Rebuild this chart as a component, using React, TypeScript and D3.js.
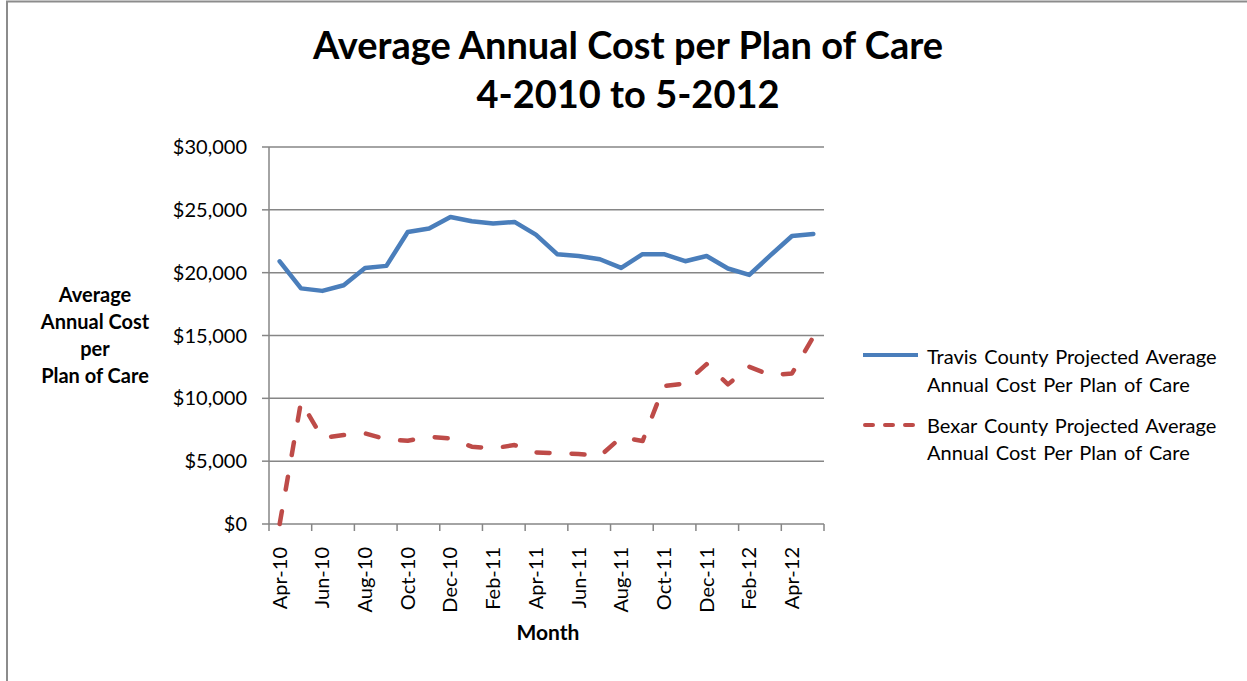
import React from "react";
import * as d3 from "d3";

const months = [
  "Apr-10","May-10","Jun-10","Jul-10","Aug-10","Sep-10","Oct-10","Nov-10","Dec-10",
  "Jan-11","Feb-11","Mar-11","Apr-11","May-11","Jun-11","Jul-11","Aug-11","Sep-11",
  "Oct-11","Nov-11","Dec-11","Jan-12","Feb-12","Mar-12","Apr-12","May-12",
];

const travis = [
  20900, 18750, 18550, 19000, 20380, 20540, 23240, 23510, 24430, 24090, 23910, 24040, 23030,
  21470, 21330, 21070, 20380, 21470, 21470, 20910, 21330, 20330, 19820, 21390, 22920, 23080,
];

const bexar = [
  0, 9730, 6850, 7080, 7210, 6730, 6620, 6940, 6810, 6150, 6020, 6280, 5700,
  5620, 5570, 5400, 6900, 6600, 10970, 11190, 12720, 11110, 12510, 11850, 11980, 14890,
];

const yTicks = [0, 5000, 10000, 15000, 20000, 25000, 30000];
const titleLines = ["Average Annual Cost per Plan of Care", "4-2010 to 5-2012"];
const yTitleLines = ["Average", "Annual Cost", "per", "Plan of Care"];
const legendTravis = ["Travis County Projected Average", "Annual Cost Per Plan of Care"];
const legendBexar = ["Bexar County Projected Average", "Annual Cost Per Plan of Care"];

const FONT = "Lato, 'Open Sans', sans-serif";
const BLUE = "#4a7ebb";
const RED = "#be4b48";
const GRID = "#868686";

export default function App() {
  const left = 269, right = 824, top = 147, bottom = 524;
  const n = months.length;
  const step = (right - left) / n;
  const x = (i: number) => left + (i + 0.5) * step;
  const y = d3.scaleLinear().domain([0, 30000]).range([bottom, top]);
  const line = d3.line<number>().x((_, i) => x(i)).y((d) => y(d));
  const fmt = (v: number) => "$" + d3.format(",")(v);
  const tickIdx = d3.range(0, n / 2 + 1);

  return (
    <svg width={1247} height={681} style={{ position: "absolute", left: 0, top: 0, background: "#fff" }} fontFamily={FONT}>
      <rect x={0} y={0} width={1247} height={681} fill="#fff" />
      <path d="M7,700 L7,1.5 L1260,1.5" fill="none" stroke="#8c8c8c" strokeWidth={2} />

      {titleLines.map((t, i) => (
        <text key={t} x={628} y={59 + i * 49} textAnchor="middle" fontSize={38} fontWeight="bold" fill="#000">{t}</text>
      ))}

      {yTicks.map((t) => (
        <g key={t}>
          <line x1={left} x2={right} y1={y(t)} y2={y(t)} stroke={GRID} strokeWidth={1.5} />
          <line x1={left - 7} x2={left} y1={y(t)} y2={y(t)} stroke={GRID} strokeWidth={1.5} />
          <text x={247} y={y(t) + 7} textAnchor="end" fontSize={20} fill="#000">{fmt(t)}</text>
        </g>
      ))}
      <line x1={left} x2={left} y1={top} y2={bottom} stroke={GRID} strokeWidth={1.5} />

      {tickIdx.map((k) => (
        <line key={k} x1={left + k * 2 * step} x2={left + k * 2 * step} y1={bottom} y2={bottom + 7} stroke={GRID} strokeWidth={1.5} />
      ))}
      {months.map((m, i) =>
        i % 2 === 0 ? (
          <text key={m} transform={`translate(${x(i) + 7},${547}) rotate(-90)`} textAnchor="end" fontSize={20} fill="#000">{m}</text>
        ) : null
      )}

      <text x={548} y={640} textAnchor="middle" fontSize={21} fontWeight="bold" fill="#000">Month</text>

      {yTitleLines.map((t, i) => (
        <text key={t} x={95} y={302 + i * 27} textAnchor="middle" fontSize={20} fontWeight="bold" fill="#000">{t}</text>
      ))}

      <path d={line(travis) || ""} fill="none" stroke={BLUE} strokeWidth={4.5} strokeLinejoin="round" strokeLinecap="round" />
      <path d={line(bexar) || ""} fill="none" stroke={RED} strokeWidth={4.5} strokeLinejoin="round" strokeLinecap="round" strokeDasharray="13 22" />

      <line x1={863} x2={918} y1={355} y2={355} stroke={BLUE} strokeWidth={4} />
      {legendTravis.map((t, i) => (
        <text key={"t" + i} x={927} y={364 + i * 28} fontSize={20} wordSpacing={2} fill="#000">{t}</text>
      ))}
      <line x1={865} x2={918} y1={425} y2={425} stroke={RED} strokeWidth={4} strokeLinecap="round" strokeDasharray="8 12" />
      {legendBexar.map((t, i) => (
        <text key={"b" + i} x={927} y={433 + i * 27} fontSize={20} wordSpacing={2} fill="#000">{t}</text>
      ))}
    </svg>
  );
}
